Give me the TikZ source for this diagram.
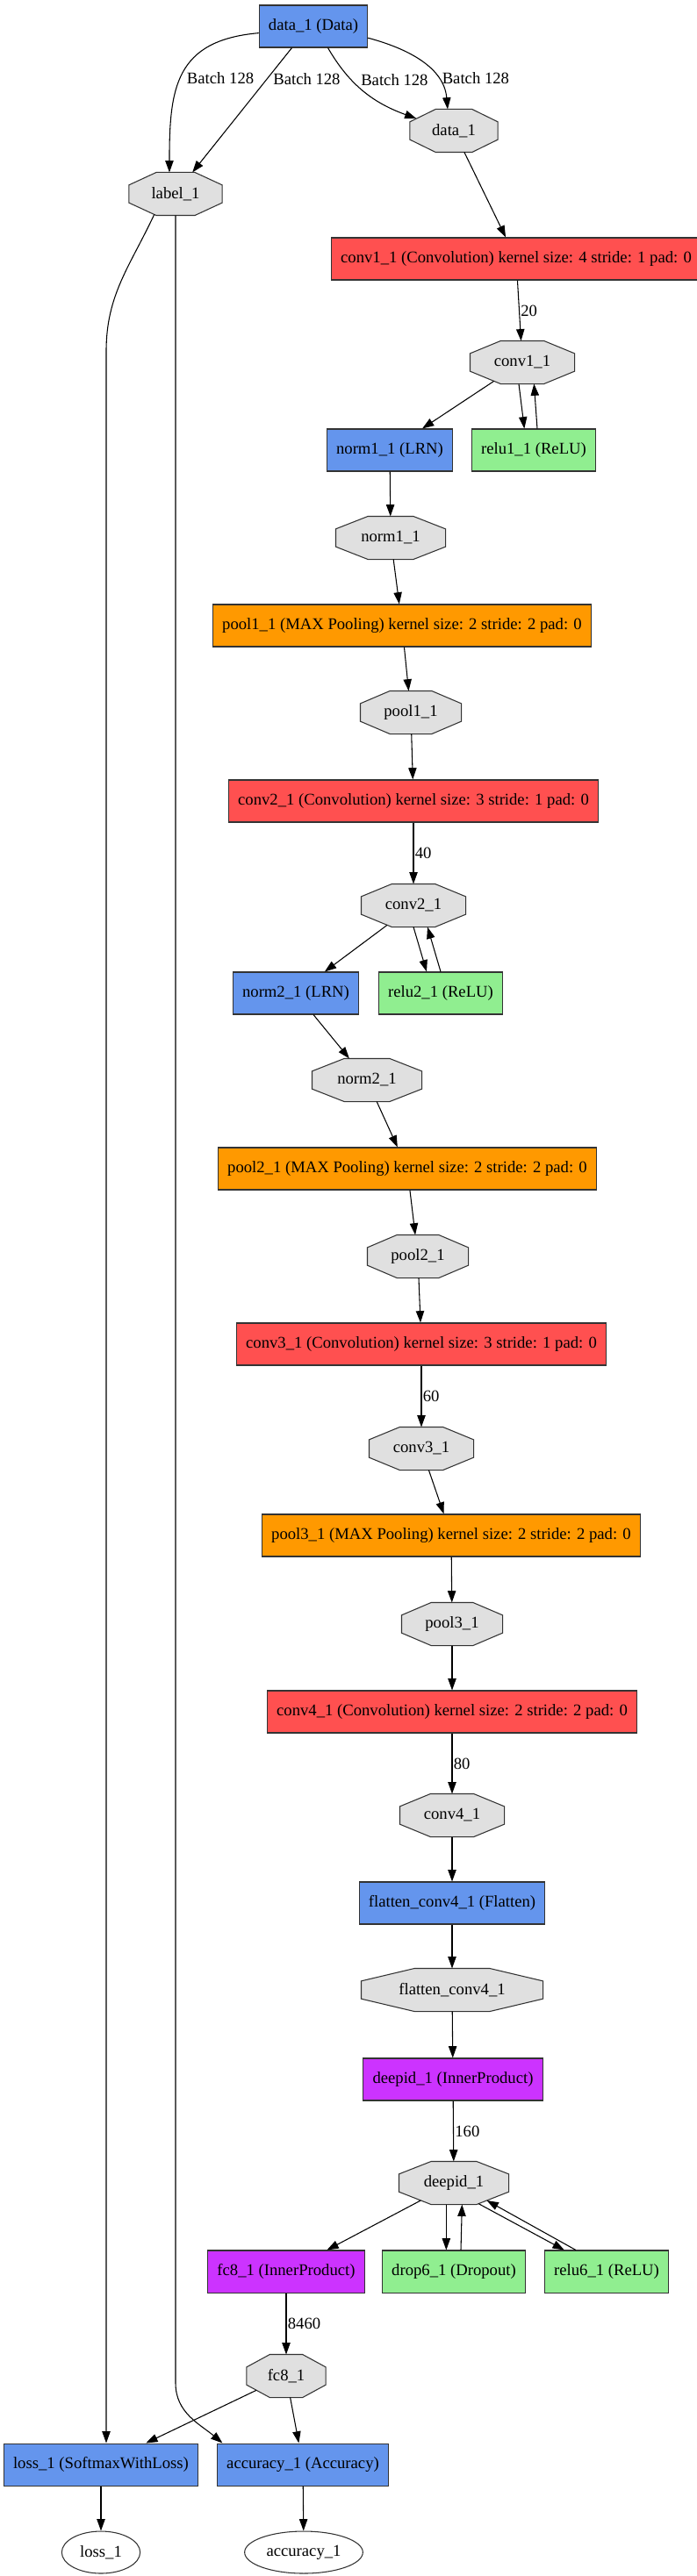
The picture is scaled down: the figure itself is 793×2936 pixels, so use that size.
\documentclass[tikz,border=0pt]{standalone}
\usepackage{fontspec}
\setmainfont{Liberation Serif}
\usetikzlibrary{arrows.meta,shapes.geometric}

\definecolor{layerblue}{HTML}{6495ED}
\definecolor{convred}{HTML}{FF5050}
\definecolor{poolorange}{HTML}{FF9900}
\definecolor{relugreen}{HTML}{90EE90}
\definecolor{ipviolet}{HTML}{CC33FF}
\definecolor{blobgray}{HTML}{E0E0E0}

% stretched octagon for the data blobs (corners cut at 0.293 of width and height)
\makeatletter
\pgfdeclareshape{blob octagon}{%
  \inheritsavedanchors[from=rectangle]%
  \inheritanchor[from=rectangle]{center}%
  \inheritanchor[from=rectangle]{north}%
  \inheritanchor[from=rectangle]{south}%
  \inheritanchor[from=rectangle]{east}%
  \inheritanchor[from=rectangle]{west}%
  \inheritanchor[from=rectangle]{mid}%
  \inheritanchor[from=rectangle]{base}%
  \backgroundpath{%
    \southwest\edef\ob@l{\the\pgf@x}\edef\ob@b{\the\pgf@y}%
    \northeast\edef\ob@r{\the\pgf@x}\edef\ob@t{\the\pgf@y}%
    \pgfmathsetmacro\ob@h{0.293*((\ob@r)-(\ob@l))}%
    \pgfmathsetmacro\ob@v{0.293*((\ob@t)-(\ob@b))}%
    \pgfpathmoveto{\pgfpoint{(\ob@l)+\ob@h pt}{\ob@b}}%
    \pgfpathlineto{\pgfpoint{(\ob@r)-\ob@h pt}{\ob@b}}%
    \pgfpathlineto{\pgfpoint{\ob@r}{(\ob@b)+\ob@v pt}}%
    \pgfpathlineto{\pgfpoint{\ob@r}{(\ob@t)-\ob@v pt}}%
    \pgfpathlineto{\pgfpoint{(\ob@r)-\ob@h pt}{\ob@t}}%
    \pgfpathlineto{\pgfpoint{(\ob@l)+\ob@h pt}{\ob@t}}%
    \pgfpathlineto{\pgfpoint{\ob@l}{(\ob@t)-\ob@v pt}}%
    \pgfpathlineto{\pgfpoint{\ob@l}{(\ob@b)+\ob@v pt}}%
    \pgfpathclose
  }%
  \anchorborder{%
    \edef\ob@dx{\the\pgf@x}\edef\ob@dy{\the\pgf@y}%
    \pgfpointnormalised{\pgfqpoint{\ob@dx}{\ob@dy}}%
    \edef\ob@ux{\the\pgf@x}\edef\ob@uy{\the\pgf@y}%
    \southwest\edef\ob@l{\the\pgf@x}\edef\ob@b{\the\pgf@y}%
    \northeast\edef\ob@r{\the\pgf@x}\edef\ob@t{\the\pgf@y}%
    \pgfmathsetmacro\ob@a{((\ob@r)-(\ob@l))/2}%
    \pgfmathsetmacro\ob@c{((\ob@t)-(\ob@b))/2}%
    \pgfmathsetmacro\ob@x{abs(\ob@ux)}%
    \pgfmathsetmacro\ob@y{abs(\ob@uy)}%
    \pgfmathsetmacro\ob@s{1.414*\ob@a*\ob@c/(\ob@c*\ob@x+\ob@a*\ob@y)}%
    \pgfmathsetmacro\ob@p{\ob@s*\ob@x}%
    \ifdim\ob@p pt>\ob@a pt\pgfmathsetmacro\ob@s{\ob@a/\ob@x}\fi
    \pgfmathsetmacro\ob@p{\ob@s*\ob@y}%
    \ifdim\ob@p pt>\ob@c pt\pgfmathsetmacro\ob@s{\ob@c/\ob@y}\fi
    \pgfmathsetmacro\ob@px{((\ob@l)+(\ob@r))/2+\ob@s*(\ob@ux)}%
    \pgfmathsetmacro\ob@py{((\ob@b)+(\ob@t))/2+\ob@s*(\ob@uy)}%
    \pgf@x=\ob@px pt\relax
    \pgf@y=\ob@py pt\relax
  }%
}
\makeatother

\begin{document}
\begin{tikzpicture}[
  x=0.75pt, y=0.75pt,
  font=\fontsize{14pt}{16pt}\selectfont,
  layer/.style={draw=black!80, line width=0.8pt, minimum height=36pt, inner xsep=8pt, inner ysep=0pt},
  blob/.style={shape=blob octagon, draw=black!80, line width=0.8pt, fill=blobgray, minimum height=36pt,
    minimum width=#1pt, inner sep=0pt},
  output/.style={ellipse, draw=black!80, line width=0.8pt, minimum height=36pt, inner sep=0pt},
  arrow/.style={-{Triangle[length=10pt,width=7pt]}, line width=0.8pt},
  lbl/.style={midway, anchor=west, inner xsep=1pt, inner ysep=0pt}
]
\useasboundingbox (0,0) rectangle (793,-2936);

% input
\node[layer, fill=layerblue] (data) at (357,-30) {data\_1 (Data)};
\node[blob=74.3] (datablob) at (517,-149) {data\_1};
\node[blob=78.8] (labelblob) at (200,-221) {label\_1};

% block 1
\node[layer, fill=convred] (conv1) at (588,-295) {conv1\_1 (Convolution) kernel size: 4 stride: 1 pad: 0};
\node[blob=88.5] (conv1blob) at (595,-413) {conv1\_1};
\node[layer, fill=layerblue] (norm1) at (444,-513) {norm1\_1 (LRN)};
\node[layer, fill=relugreen] (relu1) at (608,-513) {relu1\_1 (ReLU)};
\node[blob=93] (norm1blob) at (445,-613) {norm1\_1};
\node[layer, fill=poolorange] (pool1) at (458,-713) {pool1\_1 (MAX Pooling) kernel size: 2 stride: 2 pad: 0};
\node[blob=85.5] (pool1blob) at (468,-812) {pool1\_1};

% block 2
\node[layer, fill=convred] (conv2) at (471,-913) {conv2\_1 (Convolution) kernel size: 3 stride: 1 pad: 0};
\node[blob=88.5] (conv2blob) at (471,-1032) {conv2\_1};
\node[layer, fill=layerblue] (norm2) at (337,-1132) {norm2\_1 (LRN)};
\node[layer, fill=relugreen] (relu2) at (502,-1132) {relu2\_1 (ReLU)};
\node[blob=93] (norm2blob) at (418,-1231) {norm2\_1};
\node[layer, fill=poolorange] (pool2) at (464,-1332) {pool2\_1 (MAX Pooling) kernel size: 2 stride: 2 pad: 0};
\node[blob=85.5] (pool2blob) at (476,-1432) {pool2\_1};

% block 3
\node[layer, fill=convred] (conv3) at (480,-1532) {conv3\_1 (Convolution) kernel size: 3 stride: 1 pad: 0};
\node[blob=88.5] (conv3blob) at (480,-1651) {conv3\_1};
\node[layer, fill=poolorange] (pool3) at (514,-1750) {pool3\_1 (MAX Pooling) kernel size: 2 stride: 2 pad: 0};
\node[blob=85.5] (pool3blob) at (515,-1851) {pool3\_1};

% block 4
\node[layer, fill=convred] (conv4) at (515,-1951) {conv4\_1 (Convolution) kernel size: 2 stride: 2 pad: 0};
\node[blob=88.5] (conv4blob) at (515,-2069) {conv4\_1};
\node[layer, fill=layerblue] (flat) at (515,-2169) {flatten\_conv4\_1 (Flatten)};
\node[blob=154.5] (flatblob) at (515,-2268) {flatten\_conv4\_1};

% fully connected part
\node[layer, fill=ipviolet] (deepid) at (516,-2370) {deepid\_1 (InnerProduct)};
\node[blob=93] (deepidblob) at (517,-2488) {deepid\_1};
\node[layer, fill=ipviolet] (fc8) at (326,-2589) {fc8\_1 (InnerProduct)};
\node[layer, fill=relugreen] (drop6) at (517,-2589) {drop6\_1 (Dropout)};
\node[layer, fill=relugreen] (relu6) at (691,-2589) {relu6\_1 (ReLU)};
\node[blob=66.8] (fc8blob) at (326,-2708) {fc8\_1};

% loss and accuracy
\node[layer, fill=layerblue] (loss) at (115,-2809) {loss\_1 (SoftmaxWithLoss)};
\node[layer, fill=layerblue] (acc) at (345,-2809) {accuracy\_1 (Accuracy)};
\node[output, minimum width=67pt] (lossout) at (115,-2909) {loss\_1};
\node[output, minimum width=101pt] (accout) at (346,-2909) {accuracy\_1};

\coordinate (lossbend) at (121,-400);
\coordinate (accbend) at (200,-2716);

% edges
\draw[arrow] (data.187) to[out=185, in=90, looseness=1.3] node[lbl, pos=0.53, xshift=4pt] {Batch 128} (labelblob.106);
\draw[arrow] (data.225) -- node[lbl, pos=0.25, xshift=4pt] {Batch 128} (labelblob.52);
\draw[arrow] (data.304) to[out=-60, in=160] node[lbl, pos=0.33, xshift=7pt] {Batch 128} (datablob.162);
\draw[arrow] (data.348) to[out=-15, in=95] node[lbl, pos=0.71, xshift=3pt] {Batch 128} (datablob.106);
\draw[arrow] (datablob) -- (conv1);
\draw[arrow] (conv1) -- node[lbl] {20} (conv1blob);
\draw[arrow] (conv1blob) -- (norm1);
\draw[arrow] ([xshift=-3pt]conv1blob.south) -- ([xshift=-8pt]relu1.north);
\draw[arrow] ([xshift=3pt]relu1.north) -- ([xshift=10pt]conv1blob.south);
\draw[arrow] (norm1) -- (norm1blob);
\draw[arrow] (norm1blob) -- (pool1);
\draw[arrow] (pool1) -- (pool1blob);
\draw[arrow] (pool1blob) -- (conv2);
\draw[arrow] (conv2) -- node[lbl] {40} (conv2blob);
\draw[arrow] (conv2blob) -- (norm2);
\draw[arrow] (conv2blob.south) -- ([xshift=-12pt]relu2.north);
\draw[arrow] (relu2.north) -- ([xshift=12pt]conv2blob.south);
\draw[arrow] (norm2) -- (norm2blob);
\draw[arrow] (norm2blob) -- (pool2);
\draw[arrow] (pool2) -- (pool2blob);
\draw[arrow] (pool2blob) -- (conv3);
\draw[arrow] (conv3) -- node[lbl] {60} (conv3blob);
\draw[arrow] (conv3blob) -- (pool3);
\draw[arrow] (pool3) -- (pool3blob);
\draw[arrow] (pool3blob) -- (conv4);
\draw[arrow] (conv4) -- node[lbl] {80} (conv4blob);
\draw[arrow] (conv4blob) -- (flat);
\draw[arrow] (flat) -- (flatblob);
\draw[arrow] (flatblob) -- (deepid);
\draw[arrow] (deepid) -- node[lbl] {160} (deepidblob);
\draw[arrow] (deepidblob) -- (fc8);
\draw[arrow] ([xshift=-6.5pt]deepidblob.south) -- ([xshift=-6.5pt]drop6.north);
\draw[arrow] ([xshift=6pt]drop6.north) -- ([xshift=7pt]deepidblob.south);
\draw[arrow] (deepidblob.-40) -- (relu6.153);
\draw[arrow] (relu6.145) -- (deepidblob.-28);
\draw[arrow] (fc8) -- node[lbl] {8460} (fc8blob);
\draw[arrow] (fc8blob) -- (loss);
\draw[arrow] (fc8blob) -- (acc);
\draw[arrow] (labelblob.224) to[out=-115, in=90] (lossbend) -- (lossbend |- loss.north);
\draw[arrow] (labelblob.south) -- (accbend) to[out=-90, in=140] (acc.165);
\draw[arrow] (loss) -- (lossout);
\draw[arrow] (acc) -- (accout);

\end{tikzpicture}
\end{document}
